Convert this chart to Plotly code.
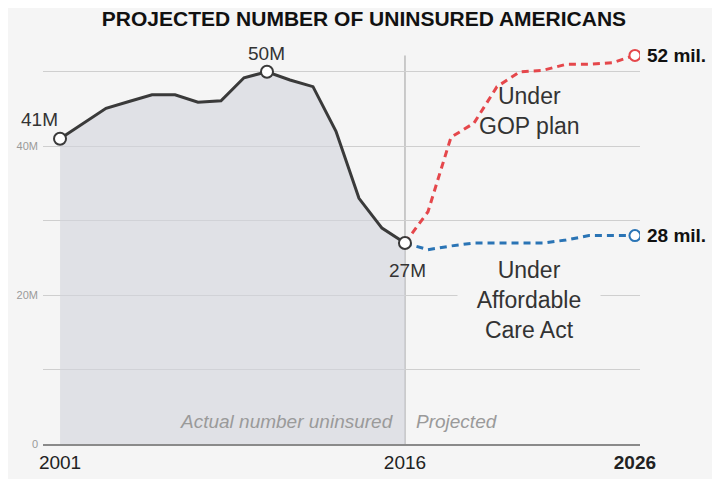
import plotly.graph_objects as go

# actual uninsured, millions
years_actual = list(range(2001, 2017))
uninsured_actual = [41, 43, 45.1, 46, 46.9, 46.9, 45.9, 46.1, 49.2, 50,
                    48.9, 48, 42, 33, 29, 27]

# projections, millions
years_proj = list(range(2016, 2027))
gop_plan = [27, 31.2, 41.2, 43.1, 48, 50, 50.2, 51, 51, 51.2, 52.2]
aca = [27, 26.1, 26.6, 27, 27, 27, 27, 27.4, 28, 28, 28]

y_ticks = [0, 10, 20, 30, 40, 50]
y_labels = ["0", "", "20M", "", "40M", ""]
x_ticks = [2001, 2016, 2026]
x_labels = ["2001", "2016", "<b>2026</b>"]

bg = "#f5f5f5"
dark = "#3a3a3a"
red = "#e5474b"
blue = "#2a74b5"
font = "Liberation Sans, Arial, sans-serif"

fig = go.Figure()

# shaded area under the actual line
fig.add_trace(go.Scatter(x=years_actual, y=uninsured_actual, mode="lines",
                         line=dict(width=0), fill="tozeroy",
                         fillcolor="rgba(210,212,220,0.6)", hoverinfo="skip"))

fig.add_trace(go.Scatter(x=years_proj, y=gop_plan, mode="lines",
                         line=dict(color=red, width=3, dash="7px,5px")))
fig.add_trace(go.Scatter(x=years_proj, y=aca, mode="lines",
                         line=dict(color=blue, width=3, dash="7px,5px")))
fig.add_trace(go.Scatter(x=years_actual, y=uninsured_actual, mode="lines",
                         line=dict(color=dark, width=3)))

# end markers
fig.add_trace(go.Scatter(x=[years_proj[-1]], y=[gop_plan[-1]], mode="markers",
                         marker=dict(size=11, color="white",
                                     line=dict(color=red, width=2))))
fig.add_trace(go.Scatter(x=[years_proj[-1]], y=[aca[-1]], mode="markers",
                         marker=dict(size=11, color="white",
                                     line=dict(color=blue, width=2))))
peak = uninsured_actual.index(max(uninsured_actual))
fig.add_trace(go.Scatter(x=[years_actual[0], years_actual[peak], years_actual[-1]],
                         y=[uninsured_actual[0], uninsured_actual[peak], uninsured_actual[-1]],
                         mode="markers",
                         marker=dict(size=12, color="white",
                                     line=dict(color=dark, width=2))))

# divider between actual and projected
fig.add_shape(type="line", x0=2016, x1=2016, y0=0, y1=52.2, layer="below",
              line=dict(color="#bbbbbb", width=1.5))

txt = dict(family=font, color="#333333")
fig.add_annotation(x=years_actual[0], y=uninsured_actual[0], text="41M",
                   showarrow=False, xshift=-21, yshift=19, font=dict(size=19, **txt))
fig.add_annotation(x=years_actual[peak], y=uninsured_actual[peak], text="50M",
                   showarrow=False, yshift=18, font=dict(size=19, **txt))
fig.add_annotation(x=years_actual[-1], y=uninsured_actual[-1], text="27M",
                   showarrow=False, xshift=3, yshift=-27, font=dict(size=19, **txt))
fig.add_annotation(x=years_proj[-1], y=gop_plan[-1], text="<b>52 mil.</b>",
                   showarrow=False, xanchor="left", xshift=10,
                   font=dict(size=19, family=font, color="#111111"))
fig.add_annotation(x=years_proj[-1], y=aca[-1], text="<b>28 mil.</b>",
                   showarrow=False, xanchor="left", xshift=10,
                   font=dict(size=19, family=font, color="#111111"))
fig.add_annotation(x=2021.4, y=44.7, text="Under<br>GOP plan", showarrow=False,
                   font=dict(size=23, **txt))
fig.add_annotation(x=2021.4, y=19.3, text="Under<br>Affordable<br>Care Act",
                   showarrow=False, width=142, bgcolor=bg, borderpad=0,
                   font=dict(size=23, **txt))
fig.add_annotation(x=2015.6, y=3, text="<i>Actual number uninsured</i>",
                   showarrow=False, xanchor="right",
                   font=dict(size=19, family=font, color="#9a9a9a"))
fig.add_annotation(x=2016.4, y=3, text="<i>Projected</i>",
                   showarrow=False, xanchor="left",
                   font=dict(size=19, family=font, color="#9a9a9a"))

# page body adds an 8px margin, so the figure is 8px smaller each way
fig.update_layout(
    width=712, height=471,
    margin=dict(l=35, r=80, t=34, b=35),
    paper_bgcolor=bg, plot_bgcolor=bg,
    showlegend=False,
    title=dict(text="<b>PROJECTED NUMBER OF UNINSURED AMERICANS</b>",
               x=0.5, xanchor="center", y=0.978, yanchor="middle",
               font=dict(family=font, size=21, color="#111111")),
    xaxis=dict(range=[2000.26, 2026.22], tickvals=x_ticks, ticktext=x_labels,
               showgrid=False, zeroline=False, showline=True,
               linecolor="#8a8a8a", linewidth=1.5, ticks="", automargin=False,
               tickfont=dict(family=font, size=19, color="#222222")),
    yaxis=dict(range=[0, 54], tickvals=y_ticks, ticktext=y_labels,
               showgrid=True, gridcolor="#cfcfcf", gridwidth=1,
               zeroline=False, ticks="", ticklabelstandoff=4, automargin=False,
               tickfont=dict(family=font, size=11, color="#9a9a9a")),
)

fig.write_html("out.html")
